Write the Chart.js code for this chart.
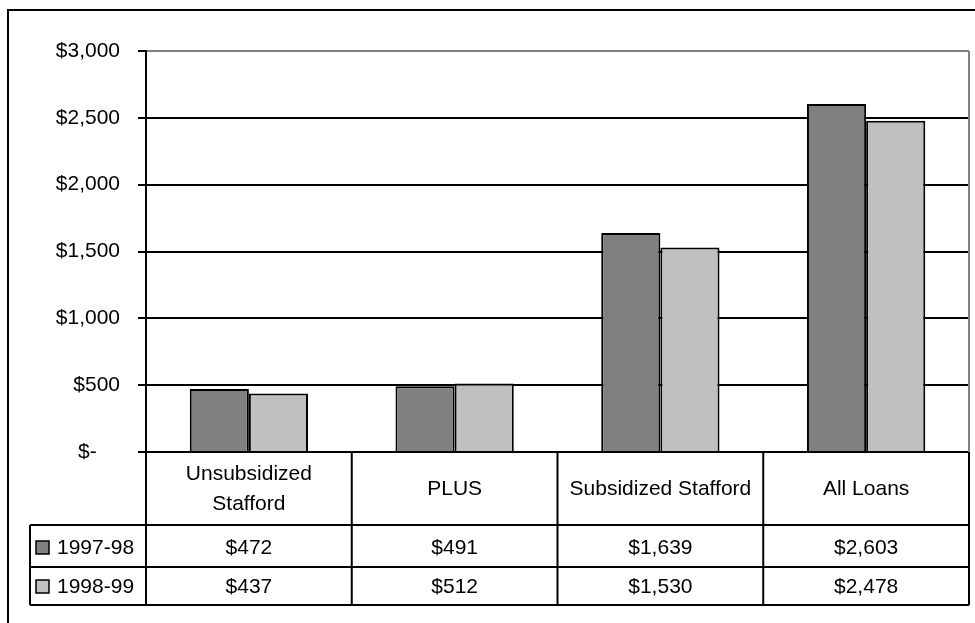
<!DOCTYPE html>
<html>
<head>
<meta charset="utf-8">
<script src="https://cdn.jsdelivr.net/npm/chart.js@4"></script>
<style>
  html, body { margin: 0; padding: 0; background: #fff; }
  canvas { display: block; }
</style>
</head>
<body>
<canvas id="c" width="975" height="623"></canvas>
<script>
// data
const categories = [["Unsubsidized", "Stafford"], "PLUS", "Subsidized Stafford", "All Loans"];
const seriesNames = ["1997-98", "1998-99"];
const values9798 = [472, 491, 1639, 2603];
const values9899 = [437, 512, 1530, 2478];
const seriesColors = ["#808080", "#C0C0C0"];
const yTicks = [0, 500, 1000, 1500, 2000, 2500, 3000];

const FONT = "21px 'Liberation Sans', Arial, sans-serif";

function money(v) {
  if (v === 0) return "$-    ";
  return "$" + v.toLocaleString("en-US");
}

// draws the frame and the data table under the plot
const tablePlugin = {
  id: "dataTable",
  beforeDraw(chart) {
    const ctx = chart.ctx;
    ctx.save();
    ctx.fillStyle = "#fff";
    ctx.fillRect(0, 0, chart.width, chart.height);
    ctx.strokeStyle = "#000";
    ctx.lineWidth = 2;
    ctx.beginPath();
    ctx.moveTo(8, chart.height);
    ctx.lineTo(8, 10);
    ctx.lineTo(chart.width, 10);
    ctx.stroke();
    ctx.restore();
  },
  afterDraw(chart) {
    const ctx = chart.ctx;
    const a = chart.chartArea;
    const x = chart.scales.x;
    const n = categories.length;
    const colW = (a.right - a.left) / n;
    const headBottom = a.bottom + 73;
    const row1 = headBottom + 42;
    const row2 = row1 + 38;
    const legLeft = 30;
    const rows = [values9798, values9899];

    ctx.save();
    // plot border, right side
    ctx.strokeStyle = "#808080";
    ctx.lineWidth = 2;
    ctx.beginPath();
    ctx.moveTo(a.right, a.top);
    ctx.lineTo(a.right, a.bottom);
    ctx.stroke();

    ctx.strokeStyle = "#000";
    ctx.lineWidth = 2;
    ctx.beginPath();
    for (let i = 0; i <= n; i++) {
      const cx = a.left + i * colW;
      ctx.moveTo(cx, a.bottom);
      ctx.lineTo(cx, row2);
    }
    ctx.moveTo(legLeft, headBottom);
    ctx.lineTo(legLeft, row2);
    [headBottom, row1, row2].forEach(y => {
      ctx.moveTo(legLeft, y);
      ctx.lineTo(a.right, y);
    });
    ctx.stroke();

    ctx.fillStyle = "#000";
    ctx.font = FONT;
    ctx.textAlign = "center";
    ctx.textBaseline = "middle";
    const headMid = (a.bottom + headBottom) / 2 + 1;
    categories.forEach((c, i) => {
      const cx = x.getPixelForValue(i);
      const lines = Array.isArray(c) ? c : [c];
      lines.forEach((t, k) => {
        ctx.fillText(t, cx, headMid + (k - (lines.length - 1) / 2) * 30);
      });
    });

    const mids = [(headBottom + row1) / 2 + 2, (row1 + row2) / 2 + 1];
    rows.forEach((vals, r) => {
      ctx.textAlign = "center";
      ctx.fillStyle = "#000";
      vals.forEach((v, i) => {
        ctx.fillText(money(v), x.getPixelForValue(i), mids[r]);
      });
      // legend key
      ctx.fillStyle = seriesColors[r];
      ctx.fillRect(36, mids[r] - 7, 13, 13);
      ctx.lineWidth = 1.5;
      ctx.strokeRect(36, mids[r] - 7, 13, 13);
      ctx.fillStyle = "#000";
      ctx.textAlign = "left";
      ctx.fillText(seriesNames[r], 57, mids[r]);
    });
    ctx.restore();
  }
};

new Chart(document.getElementById("c"), {
  type: "bar",
  plugins: [tablePlugin],
  data: {
    labels: categories,
    datasets: [
      {
        label: seriesNames[0],
        data: values9798,
        backgroundColor: seriesColors[0],
        borderColor: "#000",
        borderWidth: 2
      },
      {
        label: seriesNames[1],
        data: values9899,
        backgroundColor: seriesColors[1],
        borderColor: "#000",
        borderWidth: 2
      }
    ]
  },
  options: {
    responsive: false,
    animation: false,
    events: [],
    datasets: {
      bar: { categoryPercentage: 0.575, barPercentage: 1.0 }
    },
    layout: { padding: { left: 0, top: 51, right: 6, bottom: 171 } },
    plugins: {
      legend: { display: false },
      tooltip: { enabled: false }
    },
    scales: {
      x: { display: false },
      y: {
        min: 0,
        max: 3000,
        afterBuildTicks: s => { s.ticks = yTicks.map(v => ({ value: v })); },
        afterFit: s => { s.width = 146; },
        ticks: {
          color: "#000",
          font: { family: "'Liberation Sans', Arial, sans-serif", size: 21 },
          padding: 18,
          callback: v => money(v)
        },
        grid: {
          color: c => (c.tick && c.tick.value === 3000 ? "#808080" : "#000"),
          tickColor: "#000",
          tickLength: 8,
          lineWidth: 2
        },
        border: { color: "#000", width: 2 }
      }
    }
  }
});
</script>
</body>
</html>
